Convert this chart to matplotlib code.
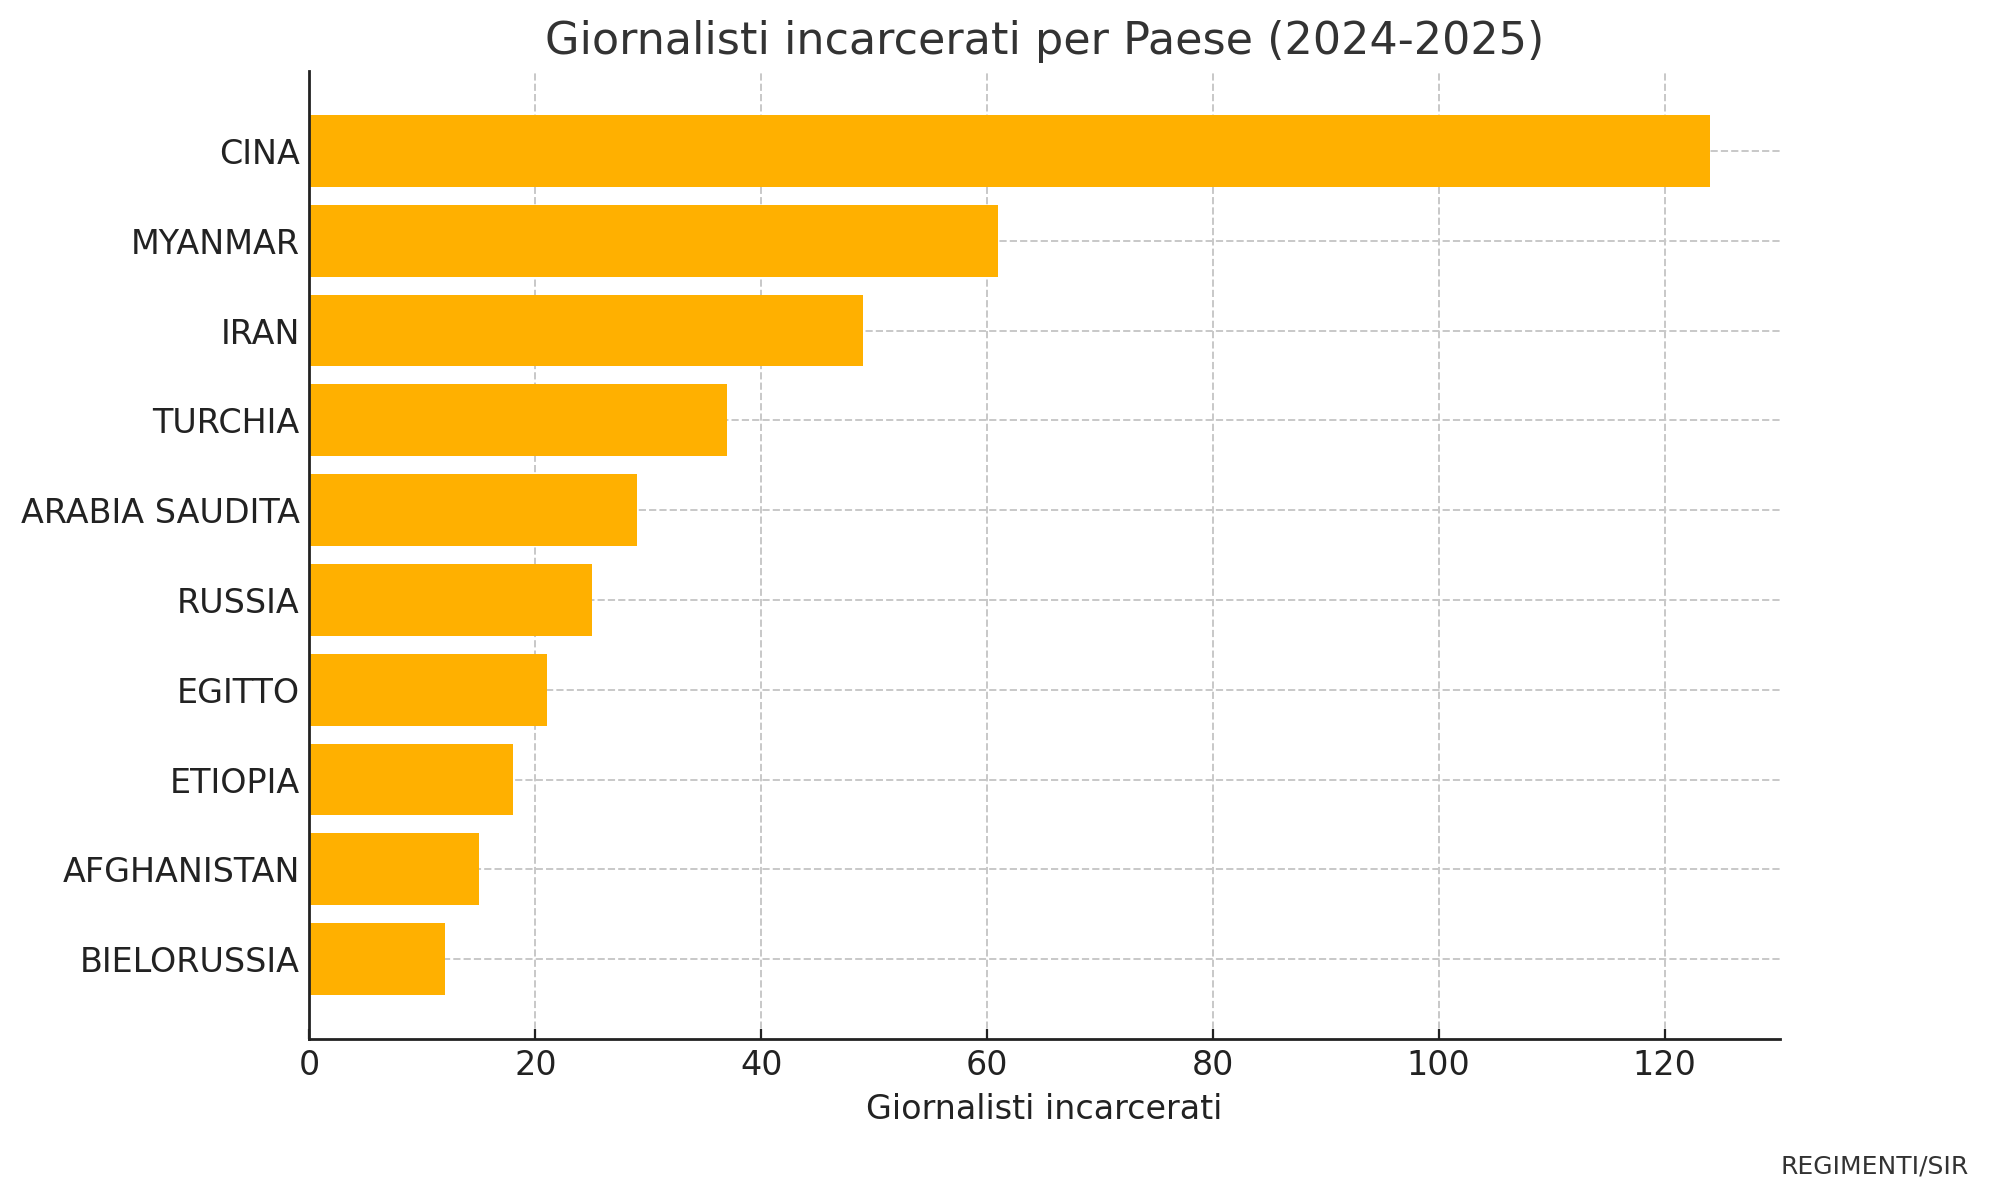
import matplotlib
matplotlib.use("Agg")
import matplotlib.pyplot as plt

countries = ["CINA", "MYANMAR", "IRAN", "TURCHIA", "ARABIA SAUDITA", "RUSSIA",
             "EGITTO", "ETIOPIA", "AFGHANISTAN", "BIELORUSSIA"]
journalists = [124, 61, 49, 37, 29, 25, 21, 18, 15, 12]

fig = plt.figure(figsize=(9.945, 5.99), dpi=200)
ax = fig.add_axes([0.1556, 0.1327, 0.7392, 0.808])

ax.barh(countries, journalists, color="#FFB000", height=0.8, zorder=2)
ax.invert_yaxis()
ax.grid(True, linestyle="--", color="#c8c8c8", linewidth=0.7, zorder=0)
ax.set_axisbelow(True)
for s in ["top", "right"]:
    ax.spines[s].set_visible(False)
for s in ["left", "bottom"]:
    ax.spines[s].set_color("#222222")
    ax.spines[s].set_linewidth(1.0)
ax.tick_params(axis="both", direction="in", labelsize=12, colors="#222222", labelcolor="#222222")
ax.set_xlabel("Giornalisti incarcerati", fontsize=12, color="#222222")
ax.set_title("Giornalisti incarcerati per Paese (2024-2025)", fontsize=16, color="#333333", pad=6)
fig.text(0.99, 0.026, "REGIMENTI/SIR", ha="right", va="center", fontsize=9, color="#333333")

fig.savefig("out.png", dpi=200)
